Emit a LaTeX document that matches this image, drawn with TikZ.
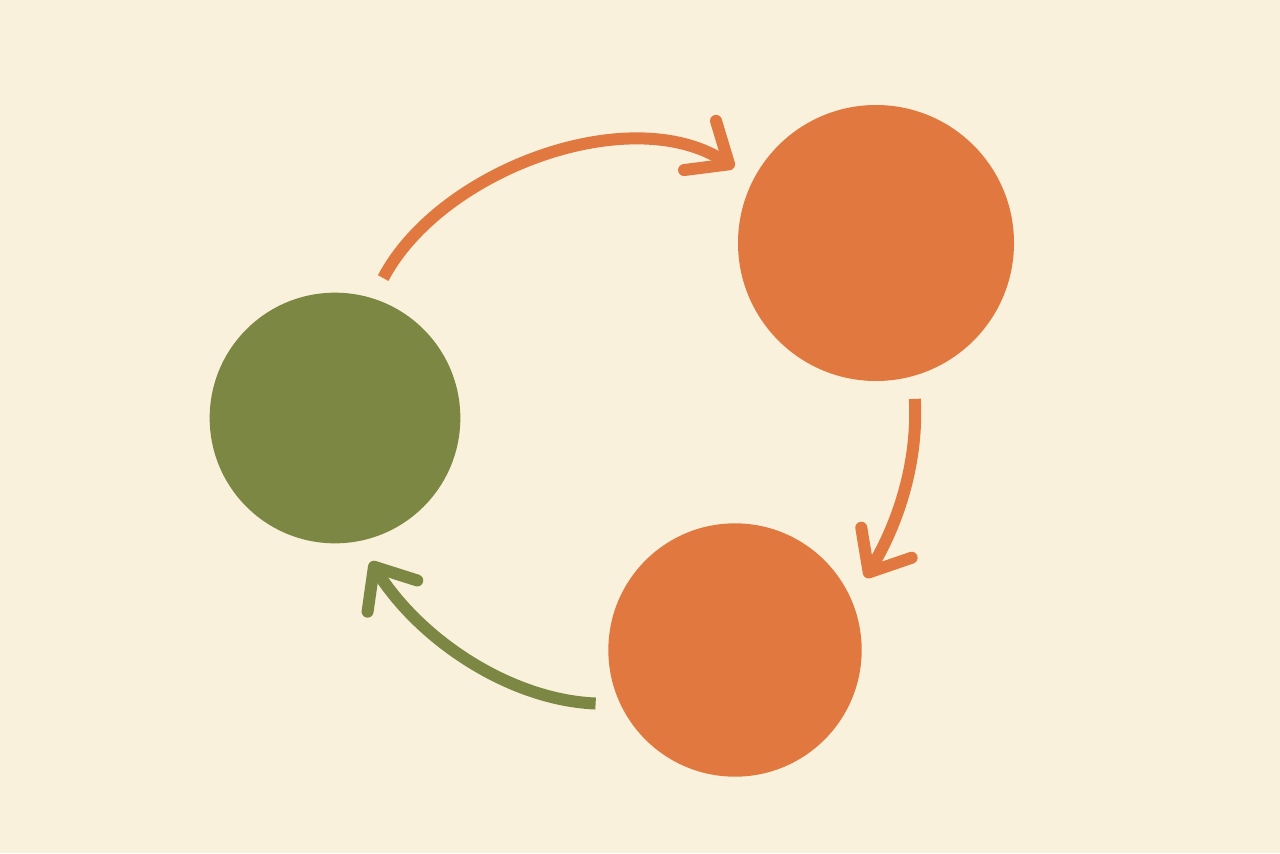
\documentclass[tikz,border=0pt]{standalone}
\usepackage{tikz}
\usetikzlibrary{arrows.meta}

\definecolor{paper}{RGB}{249,241,220}
\definecolor{olive}{RGB}{123,135,67}
\definecolor{rust}{RGB}{224,120,64}

\begin{document}
\begin{tikzpicture}[x=0.75pt,y=0.75pt,yscale=-1,xscale=1,
  blob/.style={circle,inner sep=0pt,outer sep=17pt},
  flow/.style={line width=9pt,-{Straight Barb[length=26pt,width=44pt,round]}}]
%background
\fill[paper] (0,0) rectangle (1280,853);
\useasboundingbox (0,0) rectangle (1280,853);

%Shape: Circles
\node[blob,fill=olive,minimum size=188pt] (start) at (335,418) {};
\node[blob,fill=rust,minimum size=207pt] (upper) at (876,243) {};
\node[blob,fill=rust,minimum size=190pt] (lower) at (735,650) {};

%Curves
\draw[flow,rust] (start.71) .. controls (440,170) and (630,100) .. (upper.152);
\draw[flow,rust] (upper.-76) .. controls (918,460) and (900,520) .. (lower.29);
\draw[flow,olive] (lower.201) .. controls (510,700) and (420,640) .. (start.-76);

\end{tikzpicture}
\end{document}
